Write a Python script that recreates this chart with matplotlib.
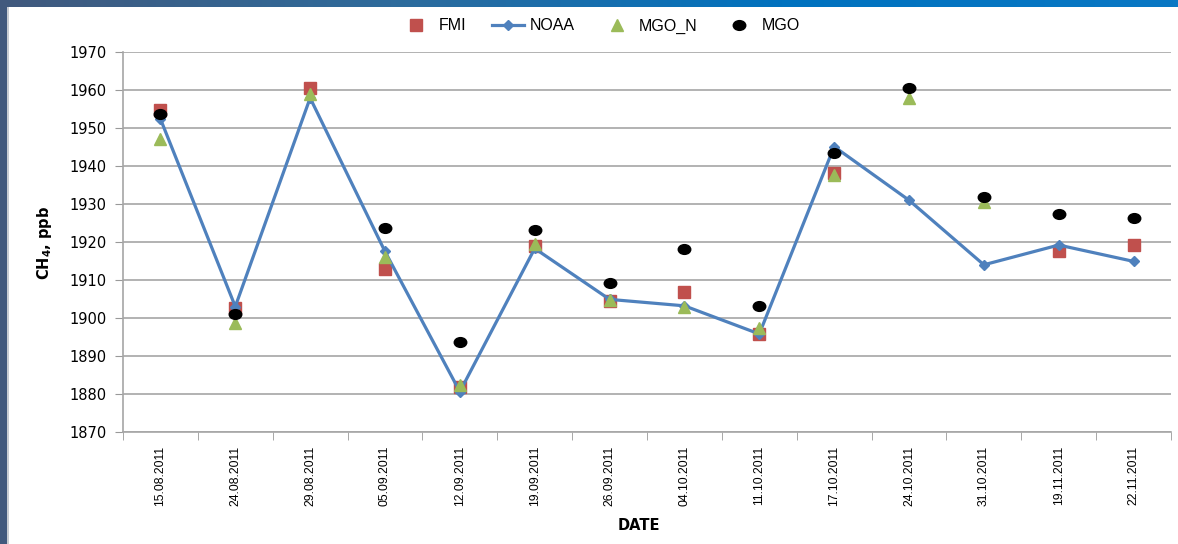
import numpy as np
import matplotlib
matplotlib.use("Agg")
import matplotlib.pyplot as plt
from matplotlib.patches import Rectangle
from matplotlib.path import Path
from matplotlib.transforms import Affine2D
from matplotlib.colors import LinearSegmentedColormap
from matplotlib import font_manager

dates = ["15.08.2011", "24.08.2011", "29.08.2011", "05.09.2011", "12.09.2011",
         "19.09.2011", "26.09.2011", "04.10.2011", "11.10.2011", "17.10.2011",
         "24.10.2011", "31.10.2011", "19.11.2011", "22.11.2011"]
nan = np.nan
fmi = [1954.7, 1902.5, 1960.4, 1912.9, 1881.9, 1918.9, 1904.5, 1906.8, 1895.7,
       1938.2, nan, nan, 1917.6, 1919.1]
noaa = [1952.4, 1903.0, 1957.9, 1917.5, 1880.6, 1918.3, 1904.9, 1903.2, 1895.8,
        1945.1, 1931.0, 1914.0, 1919.2, 1914.9]
mgo_n = [1947.1, 1898.6, 1958.9, 1916.1, 1882.4, 1919.5, 1904.8, 1902.8, 1897.3,
         1937.5, 1957.8, 1930.6, nan, nan]
mgo = [1953.6, 1901.1, nan, 1923.6, 1893.8, 1923.2, 1909.1, 1918.2, 1903.2,
       1943.3, 1960.4, 1931.9, 1927.4, 1926.3]
yticks = list(range(1870, 1971, 10))

names = {f.name for f in font_manager.fontManager.ttflist}
narrow = "Liberation Sans Narrow" if "Liberation Sans Narrow" in names else "Liberation Sans"
xsize = 10.5 if narrow == "Liberation Sans Narrow" else 8.8

W, H = 1178, 544
fig = plt.figure(figsize=(W / 100, H / 100), dpi=100)
fig.patch.set_facecolor("white")

# decorative frame: top gradient band and left band
band = fig.add_axes([0, 1 - 7 / H, 1, 7 / H])
grad = np.linspace(0, 1, 256).reshape(1, -1)
cm = LinearSegmentedColormap.from_list("b", ["#41597d", "#2e6b9c", "#0072bf", "#0a78c4"])
band.imshow(grad, aspect="auto", cmap=cm, extent=[0, 1, 0, 1])
band.axis("off")
fig.patches.append(Rectangle((0, 0), 7 / W, 1, transform=fig.transFigure,
                             facecolor="#41597d", edgecolor="none", zorder=5))
fig.patches.append(Rectangle((7 / W, 0), 1.5 / W, 1 - 7 / H, transform=fig.transFigure,
                             facecolor="#c8ccd2", edgecolor="none", zorder=5))

ellipse = Path.unit_circle().transformed(Affine2D().scale(1.0, 0.78))

ax = fig.add_axes([123 / W, 1 - 432 / H, (1171 - 123) / W, (432 - 52) / H])
x = np.arange(len(dates))
ax.plot(x, fmi, linestyle="none", marker="s", markersize=8.5, color="#c0504d",
        label="FMI", zorder=3)
ax.plot(x, noaa, linestyle="-", linewidth=2.3, marker="D", markersize=5.5,
        color="#4f81bd", label="NOAA", zorder=4)
ax.plot(x, mgo_n, linestyle="none", marker="^", markersize=8.5, color="#9bbb59",
        label="MGO_N", zorder=5)
ax.plot(x, mgo, linestyle="none", marker=ellipse, markersize=9, color="black",
        label="MGO", zorder=6)

ax.set_xlim(-0.5, len(dates) - 0.5)
ax.set_ylim(1870, 1970)
ax.set_yticks(yticks)
ax.set_yticklabels([str(v) for v in yticks], fontsize=10.5, family="DejaVu Sans")
ax.set_xticks(x)
ax.set_xticklabels(dates, rotation=90, fontsize=xsize, family=narrow, va="top")
ax.set_xticks(np.arange(-0.5, len(dates), 1.0), minor=True)
ax.tick_params(axis="x", which="major", length=0, pad=10)
ax.tick_params(axis="x", which="minor", length=6, color="#999999", direction="out")
ax.tick_params(axis="y", length=6, color="#999999", direction="out", pad=6)
ax.yaxis.grid(True, color="#a6a6a6", linewidth=1.2)
ax.set_axisbelow(True)
for s in ["top", "right"]:
    ax.spines[s].set_visible(False)
for s in ["left", "bottom"]:
    ax.spines[s].set_color("#a6a6a6")
    ax.spines[s].set_linewidth(1.2)

fig.legend(loc="center", bbox_to_anchor=(600 / W, 1 - 26 / H), ncol=4, frameon=False,
           prop={"family": narrow, "size": 11.5}, handlelength=2.0, columnspacing=1.6,
           handletextpad=0.4)

fig.text(639 / W, 1 - 526 / H, "DATE", ha="center", va="center", fontsize=10.5,
         fontweight="bold", family="DejaVu Sans")
fig.text(45 / W, 1 - 243 / H, r"CH$_\mathbf{4}$, ppb", ha="center", va="center",
         rotation=90, fontsize=10.5, fontweight="bold", family="DejaVu Sans")

fig.savefig("out.png", dpi=100)
